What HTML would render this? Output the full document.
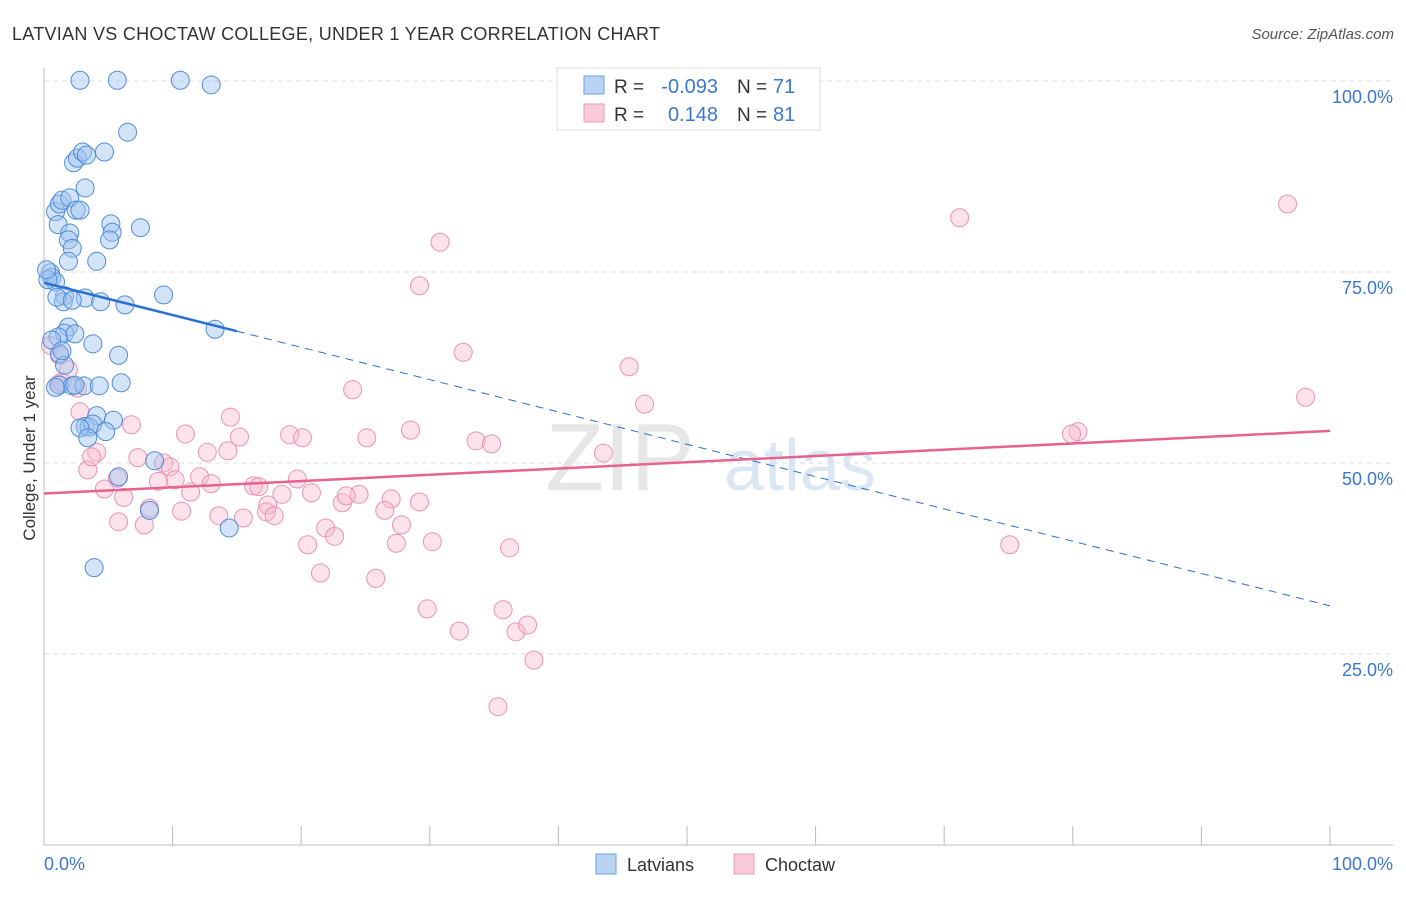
<!DOCTYPE html>
<html><head><meta charset="utf-8"><style>
body{margin:0;background:#fff;font-family:"Liberation Sans",sans-serif;}
svg text{font-family:"Liberation Sans",sans-serif;}
</style></head><body>
<svg id="chart" width="1406" height="892" xmlns="http://www.w3.org/2000/svg">
<text x="12" y="40" font-size="18" fill="#333" textLength="648">LATVIAN VS CHOCTAW COLLEGE, UNDER 1 YEAR CORRELATION CHART</text>
<text x="1394" y="39" font-size="15" fill="#555" font-style="italic" text-anchor="end">Source: ZipAtlas.com</text>
<text x="620" y="490" font-size="96" fill="#e6e6e6" font-family="Liberation Serif" text-anchor="middle">ZIP</text>
<text x="800" y="490" font-size="72" fill="#dbe6f4" text-anchor="middle">atlas</text>
<g id="grid"></g><g id="axes"></g><g id="pts"></g><g id="trends"></g>
<text x="35" y="458" font-size="17" fill="#333" text-anchor="middle" transform="rotate(-90 35 458)">College, Under 1 year</text>
<g>
<rect x="557" y="68" width="263" height="62" fill="#fff" stroke="#ddd"/>
<rect x="584" y="76" width="20" height="18" fill="#b9d3f3" stroke="#6ea0e0"/>
<rect x="584" y="104" width="20" height="18" fill="#f9cad8" stroke="#ec9ab4"/>
<text x="614" y="93" font-size="19" fill="#333">R =</text>
<text x="718" y="93" font-size="20" fill="#3a78d0" text-anchor="end">-0.093</text>
<text x="737" y="93" font-size="19" fill="#333">N =</text>
<text x="773" y="93" font-size="20" fill="#3a78d0">71</text>
<text x="614" y="121" font-size="19" fill="#333">R =</text>
<text x="718" y="121" font-size="20" fill="#3a78d0" text-anchor="end">0.148</text>
<text x="737" y="121" font-size="19" fill="#333">N =</text>
<text x="773" y="121" font-size="20" fill="#3a78d0">81</text>
</g>
<g>
<rect x="596" y="854" width="20" height="20" fill="#b9d3f3" stroke="#6ea0e0"/>
<text x="627" y="871" font-size="18" fill="#333">Latvians</text>
<rect x="734" y="854" width="20" height="20" fill="#f9cad8" stroke="#ec9ab4"/>
<text x="765" y="871" font-size="18" fill="#333">Choctaw</text>
</g>
</svg>
<script>
const yTicks=[25,50,75,100];
const yTickLabels=["25.0%","50.0%","75.0%","100.0%"];
const xTickLabels=["0.0%","100.0%"];
const blueX=[2.8,5.7,10.6,13.0,6.5,2.3,2.6,3.0,3.3,4.7,3.2,0.9,1.2,1.4,2.0,2.5,2.8,1.1,5.2,5.3,7.5,2.0,1.9,2.2,5.1,1.9,4.1,0.5,0.6,0.9,0.3,0.2,1.6,1.5,1.0,3.2,4.4,6.3,9.3,13.3,1.9,1.6,2.4,1.1,3.8,1.2,5.8,1.6,1.2,2.2,3.1,4.3,6.0,4.1,5.4,3.2,3.5,3.8,2.8,3.4,4.8,8.6,5.8,8.2,14.4,3.9,0.6,1.4,2.4,0.9,2.2];
const blueY=[100.1,100.1,100.1,99.5,93.3,89.3,89.9,90.7,90.3,90.7,86.0,82.9,83.9,84.4,84.7,83.1,83.1,81.2,81.3,80.2,80.8,80.1,79.2,78.1,79.2,76.4,76.4,74.9,74.3,73.7,74.0,75.3,71.9,71.1,71.7,71.6,71.1,70.7,72.0,67.5,67.8,67.0,66.9,66.5,65.6,64.3,64.1,62.8,60.2,60.1,60.1,60.1,60.5,56.2,55.6,54.8,54.7,55.1,54.6,53.3,54.1,50.3,48.2,43.8,41.5,36.3,66.1,64.7,60.2,59.9,71.3];
const pinkX=[96.7,71.2,30.8,29.2,32.6,45.5,98.1,24.0,46.7,80.4,79.9,28.5,14.5,6.8,11.0,15.2,19.1,20.1,25.1,33.6,34.8,43.5,14.3,12.7,4.1,7.3,9.3,9.8,3.4,5.7,12.1,19.7,8.9,10.2,13.0,16.3,16.7,4.7,6.2,11.4,18.5,20.8,23.2,24.5,23.5,27.0,29.2,26.5,17.4,17.3,8.2,10.7,13.6,15.5,17.9,21.9,22.6,27.8,5.8,7.8,27.4,30.2,20.5,36.2,75.1,21.5,25.8,29.8,35.7,32.3,36.7,37.6,38.1,35.3,1.2,1.9,2.6,1.1,1.4,2.8,0.5,3.7];
const pinkY=[83.9,82.1,78.9,73.2,64.5,62.6,58.6,59.6,57.7,54.1,53.8,54.3,56.0,55.0,53.8,53.4,53.7,53.3,53.3,52.9,52.5,51.3,51.6,51.4,51.4,50.7,50.0,49.5,49.1,48.0,48.2,47.9,47.6,47.8,47.3,47.0,46.9,46.6,45.5,46.2,45.9,46.1,44.8,45.9,45.7,45.3,44.9,43.8,44.5,43.6,44.1,43.7,43.1,42.8,43.1,41.5,40.4,41.9,42.3,41.9,39.5,39.7,39.3,38.9,39.3,35.6,34.9,30.9,30.8,28.0,27.9,28.8,24.2,18.1,64.1,62.2,59.8,60.3,60.6,56.7,65.4,50.8];
const blueTrend=[73.6,31.3];
const pinkTrend=[46.0,54.2];
const blueSolidEnd=15;
const NS="http://www.w3.org/2000/svg";
const X=v=>44+v*12.86, Y=v=>845-v*7.64;
function mk(tag,attrs,parent){const e=document.createElementNS(NS,tag);for(const k in attrs)e.setAttribute(k,attrs[k]);document.getElementById(parent).appendChild(e);return e;}
yTicks.forEach((t,i)=>{
 const g=mk('line',{x1:44,x2:1393,y1:Y(t),y2:Y(t),stroke:'#ddd','stroke-dasharray':'5,4'},'grid');
 
 
 const l=mk('text',{x:1393,y:Y(t)+22,'font-size':18,fill:'#3a78d0','text-anchor':'end'},'axes');
 l.textContent=yTickLabels[i];
 
 
});
let a=mk('line',{x1:44,x2:44,y1:68,y2:845,stroke:'#bbb'},'axes');


a=mk('line',{x1:44,x2:1393,y1:845,y2:845,stroke:'#bbb'},'axes');


for(let i=0;i<=10;i++){const t=mk('line',{x1:X(i*10),x2:X(i*10),y1:826,y2:845,stroke:'#bbb'},'axes');
 
 }
[[0,'start',44],[100,'end',1393]].forEach((d,i)=>{const t=mk('text',{x:d[2],y:870,'font-size':18,fill:'#3a78d0','text-anchor':d[1]},'axes');t.textContent=xTickLabels[i];
 
 });
pinkX.forEach((x,i)=>{const c=mk('circle',{cx:X(x),cy:Y(pinkY[i]),r:9,fill:'rgba(248,185,205,0.4)',stroke:'#eb93b0','stroke-width':1},'pts');
 
 });
blueX.forEach((x,i)=>{const c=mk('circle',{cx:X(x),cy:Y(blueY[i]),r:9,fill:'rgba(160,195,240,0.45)',stroke:'#4f8ddb','stroke-width':1},'pts');
 
 });
const bY=v=>blueTrend[0]+(blueTrend[1]-blueTrend[0])*v/100;
let t=mk('line',{x1:X(0),y1:Y(bY(0)),x2:X(blueSolidEnd),y2:Y(bY(blueSolidEnd)),stroke:'#2a6fd6','stroke-width':2.5},'trends');


t=mk('line',{x1:X(blueSolidEnd),y1:Y(bY(blueSolidEnd)),x2:X(100),y2:Y(bY(100)),stroke:'#2a6fd6','stroke-width':1,'stroke-dasharray':'8,6'},'trends');


t=mk('line',{x1:X(0),y1:Y(pinkTrend[0]),x2:X(100),y2:Y(pinkTrend[1]),stroke:'#e8628e','stroke-width':2.5},'trends');


</script>
</body></html>
